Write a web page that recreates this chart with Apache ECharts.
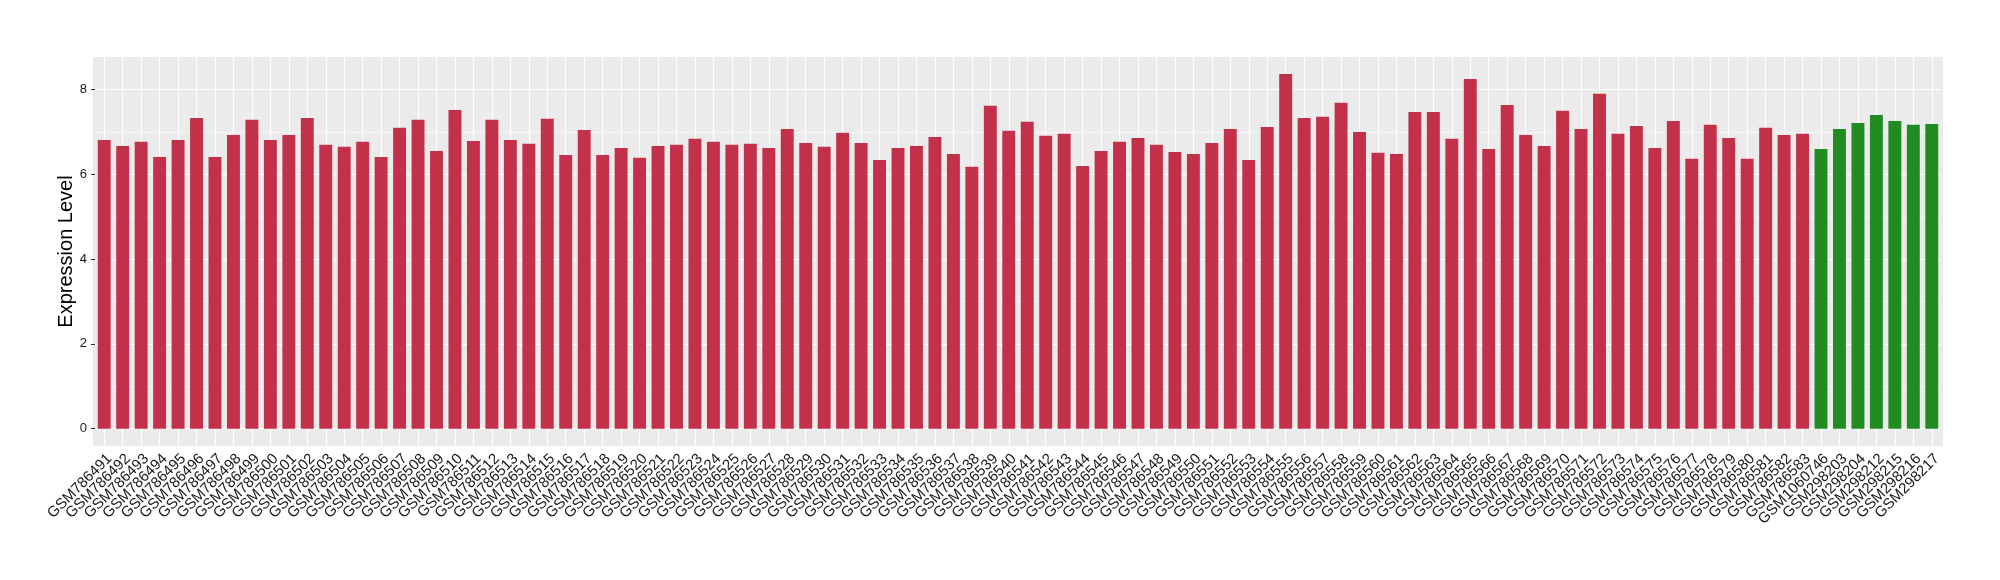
<!DOCTYPE html>
<html>
<head>
<meta charset="utf-8">
<script src="https://cdn.jsdelivr.net/npm/echarts@6/dist/echarts.min.js"></script>
<style>
html,body{margin:0;padding:0;background:#fff;}
#chart{width:2000px;height:580px;}
</style>
</head>
<body>
<div id="chart"></div>
<script>
const categories = [
  'GSM786491','GSM786492','GSM786493','GSM786494','GSM786495','GSM786496','GSM786497','GSM786498','GSM786499','GSM786500',
  'GSM786501','GSM786502','GSM786503','GSM786504','GSM786505','GSM786506','GSM786507','GSM786508','GSM786509','GSM786510',
  'GSM786511','GSM786512','GSM786513','GSM786514','GSM786515','GSM786516','GSM786517','GSM786518','GSM786519','GSM786520',
  'GSM786521','GSM786522','GSM786523','GSM786524','GSM786525','GSM786526','GSM786527','GSM786528','GSM786529','GSM786530',
  'GSM786531','GSM786532','GSM786533','GSM786534','GSM786535','GSM786536','GSM786537','GSM786538','GSM786539','GSM786540',
  'GSM786541','GSM786542','GSM786543','GSM786544','GSM786545','GSM786546','GSM786547','GSM786548','GSM786549','GSM786550',
  'GSM786551','GSM786552','GSM786553','GSM786554','GSM786555','GSM786556','GSM786557','GSM786558','GSM786559','GSM786560',
  'GSM786561','GSM786562','GSM786563','GSM786564','GSM786565','GSM786566','GSM786567','GSM786568','GSM786569','GSM786570',
  'GSM786571','GSM786572','GSM786573','GSM786574','GSM786575','GSM786576','GSM786577','GSM786578','GSM786579','GSM786580',
  'GSM786581','GSM786582','GSM786583',
  'GSM1060746','GSM298203','GSM298204','GSM298212','GSM298215','GSM298216','GSM298217'
];
// first group (red): GSM786491 .. GSM786583
const redValues = [
  6.81,6.67,6.77,6.41,6.81,7.33,6.41,6.93,7.29,6.81,
  6.93,7.33,6.70,6.65,6.77,6.41,7.10,7.29,6.55,7.52,
  6.79,7.29,6.81,6.72,7.31,6.46,7.05,6.46,6.62,6.39,
  6.67,6.70,6.84,6.77,6.70,6.72,6.62,7.07,6.74,6.65,
  6.98,6.74,6.34,6.62,6.67,6.88,6.48,6.18,7.62,7.03,
  7.24,6.91,6.96,6.20,6.55,6.77,6.86,6.70,6.53,6.48,
  6.74,7.07,6.34,7.12,8.37,7.33,7.36,7.69,7.00,6.51,
  6.48,7.47,7.47,6.84,8.25,6.60,7.64,6.93,6.67,7.50,
  7.07,7.90,6.96,7.14,6.62,7.26,6.37,7.17,6.86,6.37,
  7.10,6.93,6.96
];
// second group (green)
const greenValues = [6.60,7.07,7.21,7.40,7.26,7.17,7.19];
const yTickValues = [0,2,4,6,8];
const yMinorValues = [1,3,5,7];

const RED = '#C3304A';
const GREEN = '#228B22';
const FONT = 'Liberation Sans, Arial, sans-serif';

const allValues = redValues.concat(greenValues);
const barData = allValues.map((v, i) => ({
  value: v,
  itemStyle: { color: i < redValues.length ? RED : GREEN }
}));

const gridLines = []
  .concat(yMinorValues.map(v => ({ yAxis: v, lineStyle: { color: '#ffffff', width: 0.6, type: 'solid' } })))
  .concat(yTickValues.map(v => ({ yAxis: v, lineStyle: { color: '#ffffff', width: 1.2, type: 'solid' } })))
  .concat(categories.map(c => ({ xAxis: c, lineStyle: { color: '#ffffff', width: 1.2, type: 'solid' } })));

const chart = echarts.init(document.getElementById('chart'), null, { renderer: 'canvas' });
chart.setOption({
  animation: false,
  backgroundColor: '#ffffff',
  textStyle: { fontFamily: FONT },
  graphic: [{
    type: 'rect',
    z: 0,
    silent: true,
    shape: { x: 93, y: 57, width: 1850, height: 389 },
    style: { fill: '#EBEBEB' }
  }],
  grid: { left: 95, right: 59, top: 57, bottom: 134, show: false },
  xAxis: {
    type: 'category',
    data: categories,
    boundaryGap: true,
    axisLine: { show: false },
    axisTick: { show: true, alignWithLabel: true, length: 4, lineStyle: { color: '#333333', width: 1 } },
    splitLine: { show: false },
    axisLabel: {
      interval: 0,
      rotate: 45,
      margin: 5,
      align: 'right',
      verticalAlign: 'top',
      fontSize: 15,
      color: '#1A1A1A',
      fontFamily: FONT
    }
  },
  yAxis: {
    type: 'value',
    min: -0.41,
    max: 8.77,
    name: 'Expression Level',
    nameLocation: 'middle',
    nameGap: 19,
    nameMoveOverlap: false,
    nameRotate: 90,
    nameTextStyle: { fontSize: 20, color: '#000000', fontFamily: FONT },
    axisLine: { show: false },
    axisTick: { show: true, length: 4, customValues: yTickValues, lineStyle: { color: '#333333', width: 1 } },
    splitLine: { show: false },
    axisLabel: {
      customValues: yTickValues,
      margin: 8,
      fontSize: 13,
      color: '#1A1A1A',
      fontFamily: FONT,
      formatter: v => (yTickValues.indexOf(Math.round(v * 100) / 100) >= 0 ? String(Math.round(v)) : '')
    }
  },
  series: [{
    type: 'bar',
    data: barData,
    barWidth: '70%',
    z: 2,
    markLine: {
      silent: true,
      z: 1,
      symbol: ['none', 'none'],
      label: { show: false },
      animation: false,
      data: gridLines
    }
  }]
});
</script>
</body>
</html>
